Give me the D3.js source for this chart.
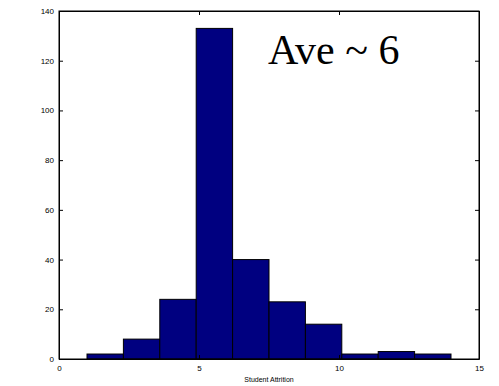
<!DOCTYPE html>
<html>
<head>
<meta charset="utf-8">
<script src="https://cdn.jsdelivr.net/npm/d3@7"></script>
<style>
  body { margin: 0; background: #fff; }
  text { font-family: "Liberation Sans", Arial, sans-serif; }
</style>
</head>
<body>
<div id="chart"></div>
<script>
// histogram bins (edges) and counts
const binEdges = [1, 2.3, 3.6, 4.9, 6.2, 7.5, 8.8, 10.1, 11.4, 12.7, 14];
const counts = [2, 8, 24, 133, 40, 23, 14, 2, 3, 2];
const xTicks = [0, 5, 10, 15];
const yTicks = [0, 20, 40, 60, 80, 100, 120, 140];

const width = 499, height = 386;
const margin = {top: 11, right: 20, bottom: 27, left: 59};

let bins = counts.map((c, i) => ({x0: binEdges[i], x1: binEdges[i + 1], count: c}));

let svg = d3.select("#chart")
    .append("svg")
    .attr("width", width)
    .attr("height", height);

let x = d3.scaleLinear()
    .domain([0, 15])
    .range([margin.left, width - margin.right]);

let y = d3.scaleLinear()
    .domain([0, 140])
    .range([height - margin.bottom, margin.top]);

// bars
svg.append("g")
    .selectAll("rect")
    .data(bins)
    .enter()
    .append("rect")
    .attr("x", d => x(d.x0))
    .attr("y", d => y(d.count))
    .attr("width", d => x(d.x1) - x(d.x0))
    .attr("height", d => y(0) - y(d.count))
    .attr("fill", "#000080")
    .attr("stroke", "#000")
    .attr("stroke-width", 1);

// axes, matlab style: ticks pointing inwards on all four sides
const tk = 4;
svg.append("g")
    .attr("transform", `translate(0,${y(0)})`)
    .call(d3.axisBottom(x).tickValues(xTicks).tickSizeInner(-tk).tickSizeOuter(0).tickPadding(6));
svg.append("g")
    .attr("transform", `translate(0,${y(140)})`)
    .call(d3.axisTop(x).tickValues(xTicks).tickSizeInner(-tk).tickSizeOuter(0).tickFormat(""));
svg.append("g")
    .attr("transform", `translate(${x(0)},0)`)
    .call(d3.axisLeft(y).tickValues(yTicks).tickSizeInner(-tk).tickSizeOuter(0).tickPadding(5));
svg.append("g")
    .attr("transform", `translate(${x(15)},0)`)
    .call(d3.axisRight(y).tickValues(yTicks).tickSizeInner(-tk).tickSizeOuter(0).tickFormat(""));

svg.selectAll(".tick text")
    .style("font-family", "'Liberation Sans', Arial, sans-serif")
    .style("font-size", "8px")
    .attr("fill", "#000");
svg.selectAll(".domain").attr("stroke", "#000");

// box
svg.append("rect")
    .attr("x", x(0))
    .attr("y", y(140))
    .attr("width", x(15) - x(0))
    .attr("height", y(0) - y(140))
    .attr("fill", "none")
    .attr("stroke", "#000");

// x label
svg.append("text")
    .attr("x", x(7.5))
    .attr("y", 382)
    .style("text-anchor", "middle")
    .style("font-size", "7px")
    .text("Student Attrition");

// annotation
svg.append("text")
    .attr("x", x(7.46))
    .attr("y", y(118.5))
    .style("font-family", "'Liberation Serif', 'Times New Roman', serif")
    .style("font-size", "42px")
    .text("Ave ~ 6");
</script>
</body>
</html>
